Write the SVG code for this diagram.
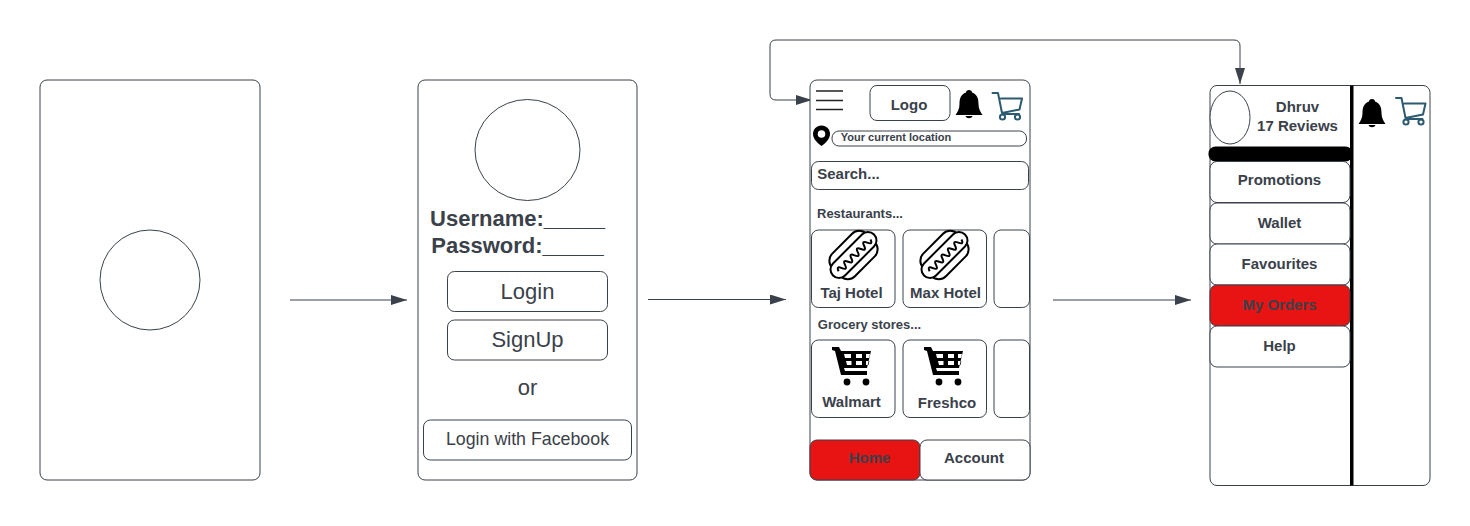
<svg xmlns="http://www.w3.org/2000/svg" width="1470" height="526" viewBox="0 0 1470 526">
<style>
text{font-family:"Liberation Sans",Arial,sans-serif;fill:#3a414a;text-anchor:middle}
.b{font-weight:700}
.s{fill:#fff;stroke:#3a414a;stroke-width:1}
.c{fill:none;stroke:#3a414a;stroke-width:1}
.k{fill:#000;stroke:none}
.r{fill:#e81313;stroke:#3a414a;stroke-width:1}
.ho{fill:none;stroke:#000;stroke-width:2;stroke-linejoin:round}
.hf{fill:#fff;stroke:#000;stroke-width:2}
.ca{fill:none;stroke:#2c5a70;stroke-width:2;stroke-linejoin:round;stroke-linecap:round}
.l{stroke:#222;stroke-width:1.600}
</style>
<defs>
<marker id="arr" markerUnits="userSpaceOnUse" markerWidth="16" markerHeight="12" refX="16" refY="5" orient="auto-start-reverse"><path d="M0 0L16 5L0 10Z" fill="#3a414a"/></marker>
<g id="bell"><path class="k" d="M0 -15c2 0 3 1.200 3 2.600c5 1.700 6.500 6 6.500 11.400c0 5 2 8 4 11h-27c2 -3 4 -6 4 -11c0 -5.400 1.500 -9.700 6.500 -11.400c0 -1.400 1 -2.600 3 -2.600zM-3.500 11h7c-1 3 -6 3 -7 0z"/></g>
<g id="cart"><path class="ca" d="M-14 -13h5.500l4 20l17.500 -3.500l2.500 -11h-21M-3.500 8h16"/><circle class="ca" cx="-4" cy="11" r="2.600"/><circle class="ca" cx="11" cy="11" r="2.600"/></g>
<g id="hotdog"><g transform="rotate(-45)"><rect class="ho" x="-24" y="-16" width="48" height="32" rx="10"/><rect class="hf" x="-29" y="-8.500" width="58" height="17" rx="8.500"/><path class="ho" d="M-22 1q2 -6 4.500 0t4.500 0t4.500 0t4.500 0t4.500 0t4.500 0t4.500 0t4.500 0t4.500 0t4.500 0"/></g></g>
<g id="trolley"><path class="k" d="M-21 -20h7l2 4h30l-4 17h-23l1 3h22v4h-26l-6 -24l-3 -1zM-9 -13l1 4h6v-4zM3 -13v4h6v-4zM13 -13v4h3l1 -4zM-7 -6l1 4h4.500v-4zM3 -6v4h6v-4zM13 -6v4h2.500l.8 -4z" fill-rule="evenodd"/><circle class="k" cx="-6" cy="15" r="3.400"/><circle class="k" cx="13" cy="15" r="3.400"/></g>
</defs>

<g id="connectors">
<path class="c" d="M290 300H407" marker-end="url(#arr)"/>
<path class="c" d="M648 299.500H786" marker-end="url(#arr)"/>
<path class="c" d="M1053 300H1191" marker-end="url(#arr)"/>
<path class="c" d="M812 100H776Q770 100 770 94V46Q770 40 776 40H1234Q1240 40 1240 46V84" marker-start="url(#arr)" marker-end="url(#arr)"/>
</g>

<g id="screen-splash">
<rect class="s" x="40" y="80" width="220" height="400" rx="7"/>
<circle class="s" cx="150" cy="280" r="50"/>
</g>

<g id="screen-login">
<rect class="s" x="418" y="80" width="219" height="400" rx="7"/>
<ellipse class="s" cx="527.500" cy="150" rx="52.500" ry="50.500"/>
<text class="b" x="517.500" y="226" font-size="22">Username:_____</text>
<text class="b" x="517.500" y="253" font-size="22">Password:_____</text>
<g id="btn-login"><rect class="s" x="447.500" y="271.500" width="160" height="40" rx="7"/><text x="527.500" y="299" font-size="22">Login</text></g>
<g id="btn-signup"><rect class="s" x="447.500" y="320" width="160" height="40" rx="7"/><text x="527.500" y="347" font-size="22">SignUp</text></g>
<text x="527.500" y="395" font-size="22">or</text>
<g id="btn-fb"><rect class="s" x="423.500" y="420" width="208" height="40" rx="7"/><text x="527.500" y="445" font-size="17.800">Login with Facebook</text></g>
</g>

<g id="screen-home">
<rect class="s" x="810" y="80" width="220" height="400" rx="7"/>
<g id="menu-icon"><path class="l" d="M816 91H843M816 100.500H843M816 109.500H843"/></g>
<g id="logo"><rect class="s" x="870" y="85.500" width="80" height="35" rx="7"/><text class="b" x="909" y="110" font-size="15">Logo</text></g>
<use href="#bell" x="969" y="105"/>
<use href="#cart" x="1006.500" y="106"/>
<g id="pin"><path class="k" d="M821.500 125.500c-5 0 -8.500 4 -8.500 8.500c0 4.500 4 9 8.500 12c4.500 -3 8.500 -7.500 8.500 -12c0 -4.500 -3.500 -8.500 -8.500 -8.500z"/><circle cx="821.500" cy="134" r="3.800" fill="#fff"/></g>
<g id="location"><rect class="s" x="832" y="131" width="194.500" height="15" rx="7"/><text class="b" x="896" y="141" font-size="11">Your current location</text></g>
<g id="search"><rect class="s" x="811.500" y="161.500" width="217" height="28" rx="7"/><text class="b" x="848.500" y="179" font-size="15">Search...</text></g>
<text class="b" x="860" y="218" font-size="13">Restaurants...</text>
<g id="taj"><rect class="s" x="811.500" y="230" width="83.500" height="77.500" rx="7"/><use href="#hotdog" x="853.500" y="255"/><text class="b" x="851.500" y="298" font-size="15">Taj Hotel</text></g>
<g id="max"><rect class="s" x="903" y="230" width="83.500" height="77.500" rx="7"/><use href="#hotdog" x="944.500" y="255"/><text class="b" x="945.500" y="298" font-size="15">Max Hotel</text></g>
<rect class="s" x="994" y="230" width="35.500" height="77.500" rx="7"/>
<text class="b" x="869.500" y="328.500" font-size="13">Grocery stores...</text>
<g id="walmart"><rect class="s" x="811.500" y="340" width="83.500" height="77.500" rx="7"/><use href="#trolley" x="853" y="367"/><text class="b" x="851.500" y="406.500" font-size="15">Walmart</text></g>
<g id="freshco"><rect class="s" x="903" y="340" width="83.500" height="77.500" rx="7"/><use href="#trolley" x="945" y="367"/><text class="b" x="947" y="407.500" font-size="15">Freshco</text></g>
<rect class="s" x="994" y="340" width="35.500" height="77.500" rx="7"/>
<g id="tab-home"><rect class="r" x="810" y="440" width="110" height="40" rx="7"/><text class="b" x="869.500" y="463" font-size="15">Home</text></g>
<g id="tab-account"><rect class="s" x="920" y="440" width="110" height="40" rx="7"/><text class="b" x="974" y="463" font-size="15">Account</text></g>
</g>

<g id="screen-menu">
<rect class="s" x="1210" y="85.500" width="220" height="400" rx="7"/>
<rect class="k" x="1350" y="85.500" width="3.500" height="400"/>
<ellipse class="s" cx="1230" cy="117.500" rx="20" ry="26.500"/>
<text class="b" x="1297.500" y="112" font-size="15">Dhruv</text>
<text class="b" x="1297.500" y="131" font-size="15">17 Reviews</text>
<rect class="k" x="1208.500" y="146.500" width="144" height="15" rx="7"/>
<use href="#bell" x="1372" y="114"/>
<use href="#cart" x="1410" y="111"/>
<g id="m-promotions"><rect class="s" x="1210" y="161.500" width="140" height="41" rx="7"/><text class="b" x="1279.500" y="185" font-size="15">Promotions</text></g>
<g id="m-wallet"><rect class="s" x="1210" y="203" width="140" height="41" rx="7"/><text class="b" x="1279.500" y="228" font-size="15">Wallet</text></g>
<g id="m-favourites"><rect class="s" x="1210" y="244" width="140" height="41" rx="7"/><text class="b" x="1279.500" y="269" font-size="15">Favourites</text></g>
<g id="m-orders"><rect class="r" x="1210" y="285" width="140" height="41" rx="7"/><text class="b" x="1279.500" y="310" font-size="15">My Orders</text></g>
<g id="m-help"><rect class="s" x="1210" y="326" width="140" height="41" rx="7"/><text class="b" x="1279.500" y="351" font-size="15">Help</text></g>
</g>
</svg>
